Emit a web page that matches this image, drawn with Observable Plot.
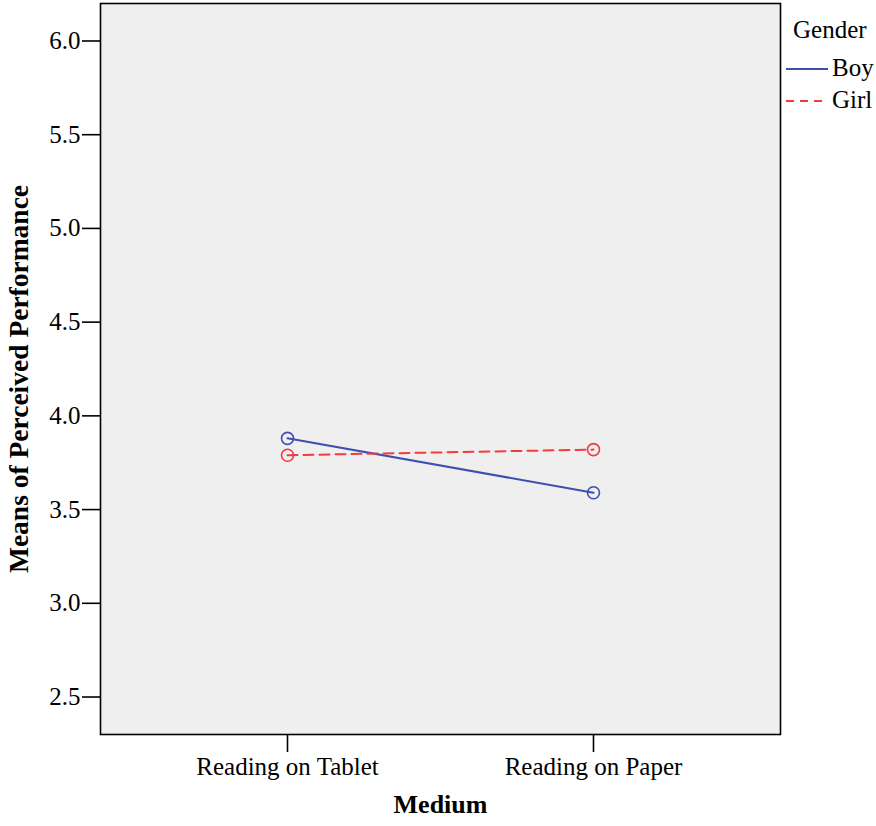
<!DOCTYPE html>
<html>
<head>
<meta charset="utf-8">
<script src="https://cdn.jsdelivr.net/npm/d3@7"></script>
<script src="https://cdn.jsdelivr.net/npm/@observablehq/plot@0.6"></script>
<style>
  body { margin: 0; background: #fff; }
  #wrap { position: relative; width: 876px; height: 826px; font-family: "Liberation Serif", "Times New Roman", "DejaVu Serif", serif; }
  #legend { position: absolute; left: 0; top: 0; width: 876px; height: 826px; pointer-events: none; }
  .lg { position: absolute; font-family: "Liberation Serif", "Times New Roman", "DejaVu Serif", serif; font-size: 25px; line-height: 26px; color: #000; white-space: nowrap; }
</style>
</head>
<body>
<div id="wrap"><div id="chart"></div><div id="legend"></div></div>
<script>
const media = ["Reading on Tablet", "Reading on Paper"];
const genders = ["Boy", "Girl"];
const boyMeans = [3.88, 3.59];
const girlMeans = [3.79, 3.82];
const yTicks = [2.5, 3.0, 3.5, 4.0, 4.5, 5.0, 5.5, 6.0];
const seriesColors = ["#3e4fae", "#f23a3f"];
const seriesDash = [null, "10,6"];
const legendTitle = "Gender";
const xTitle = "Medium";
const yTitle = "Means of Perceived Performance";

const series = [boyMeans, girlMeans].map((vals, i) =>
  media.map((m, j) => ({ medium: m, gender: genders[i], value: vals[j] }))
);

const font = '"Liberation Serif", "Times New Roman", "DejaVu Serif", serif';

const marks = [
  Plot.frame({ fill: "#efefef", stroke: "none" }),
  Plot.axisY(yTicks, { tickFormat: d3.format(".1f"), tickSize: 18, tickPadding: 2, fontSize: 25, fontFamily: font, strokeWidth: 1.6, label: null }),
  Plot.axisX(media, { tickSize: 18, tickPadding: 5, fontSize: 25, fontFamily: font, strokeWidth: 1.6, label: null })
];
series.forEach((s, i) => {
  marks.push(Plot.line(s, { x: "medium", y: "value", stroke: seriesColors[i], strokeWidth: 2, strokeDasharray: seriesDash[i] || undefined }));
  marks.push(Plot.dot(s, { x: "medium", y: "value", r: 6, stroke: seriesColors[i], fill: "none", strokeWidth: 1.6 }));
});
marks.push(Plot.frame({ stroke: "#000", strokeWidth: 1.6 }));
marks.push(Plot.text([xTitle], { text: d => d, frameAnchor: "bottom", dy: 78, fontSize: 26, fontWeight: "bold", fontFamily: font }));
marks.push(Plot.text([yTitle], { text: d => d, frameAnchor: "left", textAnchor: "middle", dx: -81, dy: 10, rotate: -90, fontSize: 27.5, fontWeight: "bold", fontFamily: font }));

const chart = Plot.plot({
  width: 876,
  height: 826,
  marginLeft: 100,
  marginRight: 96,
  marginTop: 3,
  marginBottom: 92,
  style: { fontFamily: font, fontSize: "25px", color: "#000", background: "#fff", overflow: "visible" },
  x: { type: "point", domain: media, padding: 0.611 },
  y: { domain: [2.3, 6.2] },
  marks
});
document.getElementById("chart").appendChild(chart);

// make sure tick labels use the serif face at the intended size
d3.select(chart).selectAll("g[aria-label='x-axis tick label'] text, g[aria-label='y-axis tick label'] text")
  .style("font-family", font)
  .style("font-size", "25px");

// Legend (outside the plot frame, right side)
const legend = document.getElementById("legend");
const title = document.createElement("div");
title.className = "lg";
title.textContent = legendTitle;
title.style.left = "793px";
title.style.top = "17px";
legend.appendChild(title);
genders.forEach((g, i) => {
  const y = 69 + i * 32;
  const sw = document.createElementNS("http://www.w3.org/2000/svg", "svg");
  sw.setAttribute("width", "44");
  sw.setAttribute("height", "10");
  sw.style.position = "absolute";
  sw.style.left = "785px";
  sw.style.top = (y - 5) + "px";
  const ln = document.createElementNS("http://www.w3.org/2000/svg", "line");
  ln.setAttribute("x1", "1"); ln.setAttribute("x2", "43");
  ln.setAttribute("y1", "5"); ln.setAttribute("y2", "5");
  ln.setAttribute("stroke", seriesColors[i]);
  ln.setAttribute("stroke-width", "2");
  if (seriesDash[i]) ln.setAttribute("stroke-dasharray", "8,6");
  sw.appendChild(ln);
  legend.appendChild(sw);
  const t = document.createElement("div");
  t.className = "lg";
  t.textContent = g;
  t.style.left = "832px";
  t.style.top = (y - 14) + "px";
  legend.appendChild(t);
});
</script>
</body>
</html>
